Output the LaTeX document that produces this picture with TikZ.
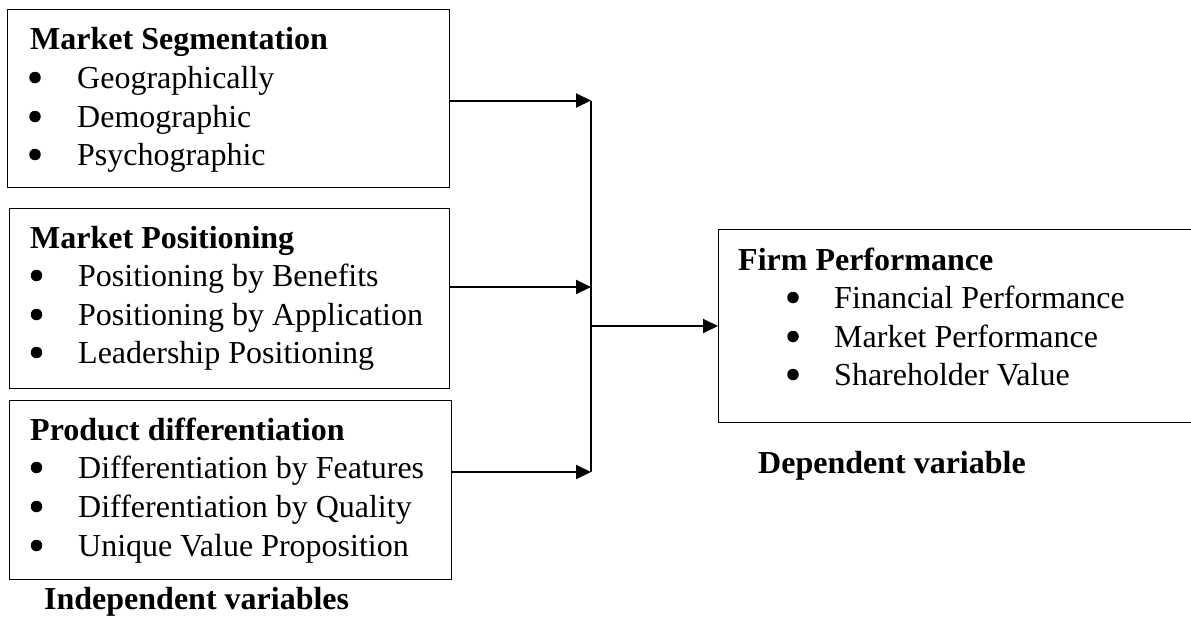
\documentclass[tikz,border=0pt]{standalone}
\usepackage{fontspec}
\setmainfont{Liberation Serif}
\usetikzlibrary{arrows.meta}
\tikzset{
  box/.style={draw=black, line width=1.3pt, rectangle, inner sep=0pt, anchor=north west},
  txt/.style={anchor=base west, inner sep=0pt, font=\fontsize{32}{38}\selectfont},
  head/.style={txt, font=\fontsize{32}{38}\selectfont\bfseries},
  bul/.style={circle, fill=black, inner sep=0pt, minimum size=11.5pt},
  conn/.style={line width=2pt, -{Triangle[length=15pt,width=14pt]}},
  vline/.style={line width=2pt}
}
\newcommand{\myitem}[5]{%
  \node[bul] (#1b) at (#2,#4-10.5) {};
  \node[txt] (#1t) at (#3,#4) {#5};}
\begin{document}
\begin{tikzpicture}[x=1pt,y=-1pt]
\useasboundingbox (0,0) rectangle (1191,625);
% boxes
\node[box, minimum width=442pt, minimum height=178pt] (b1) at (7,9) {};
\node[box, minimum width=440pt, minimum height=180pt] (b2) at (9,208) {};
\node[box, minimum width=442pt, minimum height=179pt] (b3) at (9,400) {};
\begin{scope}
\clip (0,0) rectangle (1191,625);
\node[box, minimum width=500pt, minimum height=193pt] (fp) at (718,229) {};
\end{scope}
% box 1
\node[head] (h1) at (30,49) {Market Segmentation};
\myitem{a1}{35}{77}{88}{Geographically}
\myitem{a2}{35}{77}{127}{Demographic}
\myitem{a3}{35}{77}{165}{Psychographic}
% box 2
\node[head] (h2) at (30,248) {Market Positioning};
\myitem{c1}{36.5}{78}{286}{Positioning by Benefits}
\myitem{c2}{36.5}{78}{325}{Positioning by Application}
\myitem{c3}{36.5}{78}{363}{Leadership Positioning}
% box 3
\node[head] (h3) at (30,440) {Product differentiation};
\myitem{d1}{36.5}{78}{478}{Differentiation by Features}
\myitem{d2}{36.5}{78}{517}{Differentiation by Quality}
\myitem{d3}{36.5}{78}{556}{Unique Value Proposition}
% firm
\node[head] (h4) at (738,270) {Firm Performance};
\myitem{e1}{793}{834}{308}{Financial Performance}
\myitem{e2}{793}{834}{347}{Market Performance}
\myitem{e3}{793}{834}{385}{Shareholder Value}
% labels
\node[head] (dep) at (758,473) {Dependent variable};
\node[head] (ind) at (44,609) {Independent variables};
% connectors
\coordinate (j1) at (591,100.5);
\coordinate (j2) at (591,287);
\coordinate (j3) at (591,472);
\coordinate (jm) at (591,326);
\draw[vline] (j1) -- (j3);
\draw[conn] (b1.east |- j1) -- (j1);
\draw[conn] (b2.east |- j2) -- (j2);
\draw[conn] (b3.east |- j3) -- (j3);
\draw[conn] (jm) -- (fp.west |- jm);
\end{tikzpicture}
\end{document}
